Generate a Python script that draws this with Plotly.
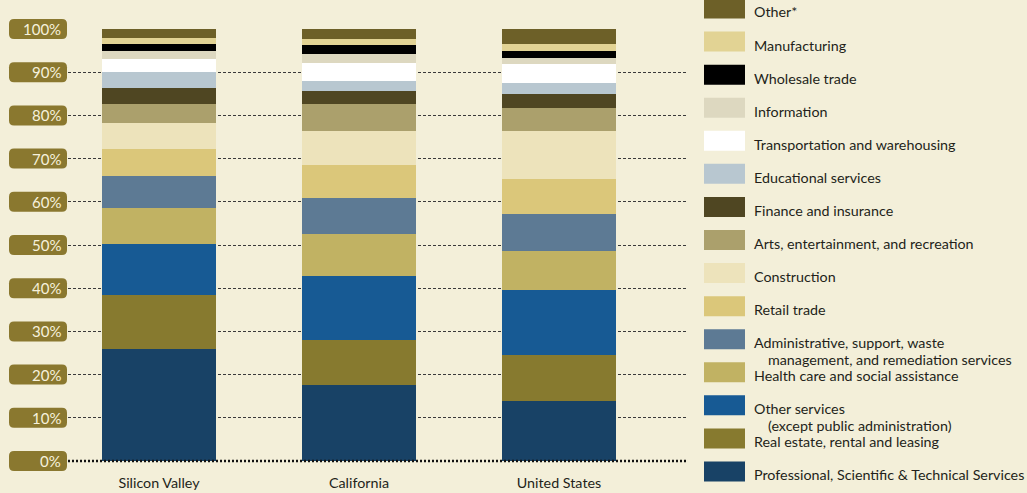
import plotly.graph_objects as go

categories = ["Silicon Valley", "California", "United States"]

# bottom -> top stacking order
series_names = [
    "Professional, Scientific & Technical Services",
    "Real estate, rental and leasing",
    "Other services\n(except public administration)",
    "Health care and social assistance",
    "Administrative, support, waste\nmanagement, and remediation services",
    "Retail trade",
    "Construction",
    "Arts, entertainment, and recreation",
    "Finance and insurance",
    "Educational services",
    "Transportation and warehousing",
    "Information",
    "Wholesale trade",
    "Manufacturing",
    "Other*",
]
series_colors = [
    "#184266", "#877a2f", "#175a94", "#c1b263", "#5d7a94",
    "#dbc77a", "#ede3bb", "#aba06c", "#4f4622", "#b8c7d0",
    "#ffffff", "#ddd8c0", "#000000", "#e2d394", "#6d6028",
]
# values (%) per category: Silicon Valley, California, United States
series_values = [
    [26.0, 17.7, 14.0],
    [12.5, 10.4, 10.6],
    [11.8, 14.8, 15.0],
    [8.3, 9.7, 9.0],
    [7.4, 8.3, 8.6],
    [6.3, 7.6, 8.1],
    [6.0, 7.9, 11.1],
    [4.4, 6.2, 5.3],
    [3.7, 3.0, 3.2],
    [3.7, 2.3, 2.5],
    [3.0, 4.2, 4.4],
    [1.8, 2.1, 1.6],
    [1.6, 2.1, 1.6],
    [1.4, 1.4, 1.6],
    [2.1, 2.3, 3.4],
]
y_ticks = [0, 10, 20, 30, 40, 50, 60, 70, 80, 90, 100]
y_tick_labels = [f"{v}%" for v in y_ticks]

BG = "#f3efd9"
FONT = "Lato, 'Open Sans', sans-serif"
W, H = 1027, 493
ML, MR, MT, MB = 68, 339, 29, 32
PW, PH = W - ML - MR, H - MT - MB

fig = go.Figure()
for name, color, vals in zip(series_names, series_colors, series_values):
    fig.add_trace(go.Bar(
        x=categories, y=vals, name=name.replace("\n", " "),
        marker=dict(color=color, line=dict(width=0)),
        width=0.57, showlegend=False,
    ))

shapes = []
annotations = []

# y-axis label boxes (rounded) and text
r = 5
box_path = (f"M -59,-{10 - r} Q -59,-10 -{59 - r},-10 L -{1 + r},-10 Q -1,-10 -1,-{10 - r} "
            f"L -1,{10 - r} Q -1,10 -{1 + r},10 L -{59 - r},10 Q -59,10 -59,{10 - r} Z")
for v, lab in zip(y_ticks, y_tick_labels):
    shapes.append(dict(
        type="path", xref="paper", yref="paper", xsizemode="pixel", ysizemode="pixel",
        xanchor=0, yanchor=v / 100, path=box_path,
        fillcolor="#8a782f", line=dict(width=0), layer="above",
    ))
    annotations.append(dict(
        xref="paper", yref="paper", x=0, y=v / 100, xshift=-5, yshift=0,
        xanchor="right", yanchor="middle", text=lab, showarrow=False,
        font=dict(family=FONT, size=15, color="#f6f1dc"),
    ))

# thick dotted baseline
shapes.append(dict(type="line", xref="paper", yref="paper", x0=0, x1=1, y0=0, y1=0,
                   line=dict(color="#111111", width=2.5, dash="2px,2px"), layer="above"))

# custom legend (top -> bottom is reverse of stacking order)
leg_names = series_names[::-1]
leg_colors = series_colors[::-1]
for i, (name, color) in enumerate(zip(leg_names, leg_colors)):
    cy = 8.5 + 33.07 * i  # pixel center of swatch from page top
    y0 = (H - MB - (cy + 10)) / PH
    y1 = (H - MB - (cy - 10)) / PH
    shapes.append(dict(type="rect", xref="paper", yref="paper",
                       x0=(704 - ML) / PW, x1=(745 - ML) / PW, y0=y0, y1=y1,
                       fillcolor=color, line=dict(width=0)))
    for j, line in enumerate(name.split("\n")):
        ty = cy + 3.5 + 16.5 * j
        annotations.append(dict(
            xref="paper", yref="paper", x=(752 + (14 if j else 0) - ML) / PW,
            y=(H - MB - ty) / PH, xanchor="left", yanchor="middle",
            text=line, showarrow=False,
            font=dict(family=FONT, size=14.3, color="#231f1a"),
        ))

fig.update_layout(
    width=W, height=H, barmode="stack", bargap=0,
    paper_bgcolor=BG, plot_bgcolor=BG,
    margin=dict(l=ML, r=MR, t=MT, b=MB, pad=0, autoexpand=False),
    font=dict(family=FONT, size=14, color="#231f1a"),
    shapes=shapes, annotations=annotations, showlegend=False,
    xaxis=dict(range=[-0.455, 2.645], showgrid=False, zeroline=False, showline=False,
               ticks="", tickfont=dict(family=FONT, size=14.3, color="#231f1a"),
               ticklabelstandoff=12, fixedrange=True, automargin=False),
    yaxis=dict(range=[0, 100], dtick=10, showgrid=True, gridcolor="#3a3a3a",
               gridwidth=1, griddash="3px,2px", zeroline=False, showline=False,
               showticklabels=False, ticks="", fixedrange=True, automargin=False),
)

fig.write_html("out.html", config={"displayModeBar": False},
               post_script="document.body.style.margin='0';document.body.style.background='" + BG + "';")
